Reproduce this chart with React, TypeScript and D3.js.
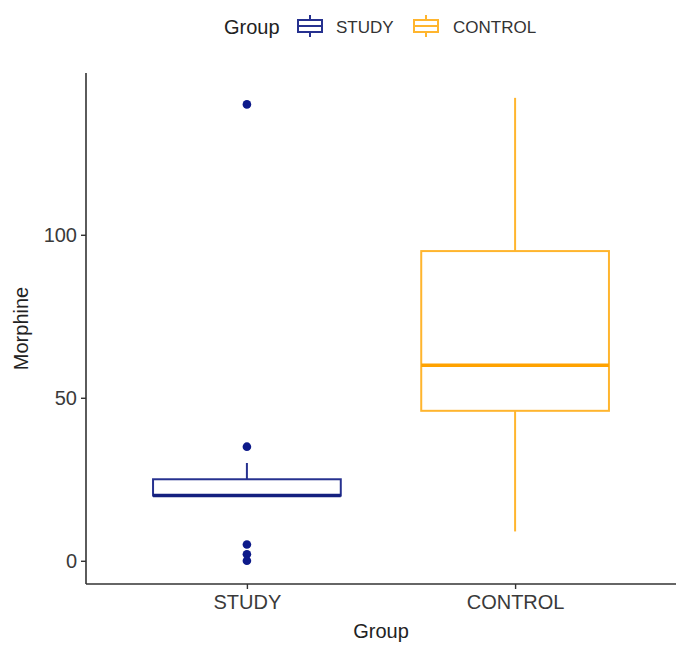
import React, { useEffect, useRef } from 'react';
import * as d3 from 'd3';

// boxplot summary per group
const groups = ['STUDY', 'CONTROL'];
const whiskerLow = [20, 9];
const q1 = [20, 46];
const median = [20, 60];
const q3 = [25, 95];
const whiskerHigh = [30, 142];
const studyOutliers = [140, 35, 5, 2, 0];
const controlOutliers: number[] = [];
const yTicks = [0, 50, 100];

const lineColors = ['#26318f', '#ffb52e'];
const medianColors = ['#14207f', '#ffa200'];
const pointColor = '#0d1a8a';

const App: React.FC = () => {
  const svgRef = useRef<SVGSVGElement | null>(null);

  useEffect(() => {
    if (!svgRef.current) return;
    const svg = d3.select(svgRef.current);
    svg.selectAll('*').remove();

    const width = 688;
    const height = 650;
    const margin = { top: 73, right: 12, bottom: 66, left: 86 };
    const font = "'Liberation Sans', Arial, sans-serif";

    // ggplot style expansion: 5% on continuous, 0.6 on discrete
    const dataMax = 142.5;
    const pad = dataMax * 0.05;
    const y = d3.scaleLinear()
      .domain([-pad, dataMax + pad])
      .range([height - margin.bottom, margin.top]);

    const x = d3.scaleLinear()
      .domain([0.4, groups.length + 0.6])
      .range([margin.left, width - margin.right]);
    const boxW = x(0.7) - x(0);

    // Axes
    const xAxis = svg.append('g')
      .attr('transform', `translate(0,${height - margin.bottom})`)
      .call(d3.axisBottom(x).tickValues([1, 2]).tickFormat((d, i) => groups[i]).tickSizeOuter(0).tickSize(5).tickPadding(6));
    const yAxis = svg.append('g')
      .attr('transform', `translate(${margin.left},0)`)
      .call(d3.axisLeft(y).tickValues(yTicks).tickSizeOuter(0).tickSize(5).tickPadding(4));

    [xAxis, yAxis].forEach(g => {
      g.select('.domain').attr('stroke', '#333').attr('stroke-width', 1.6);
      g.selectAll('.tick line').attr('stroke', '#333').attr('stroke-width', 1.4);
      g.selectAll('.tick text')
        .attr('fill', '#3a3a3a')
        .style('font-size', '20px')
        .style('font-family', font);
    });
    // extend domains to meet at corner
    xAxis.select('.domain').attr('d', `M${margin.left},0H${width - margin.right}`);
    yAxis.select('.domain').attr('d', `M0,${margin.top}V${height - margin.bottom}`);

    svg.append('text')
      .attr('x', (margin.left + width - margin.right) / 2)
      .attr('y', 638)
      .attr('text-anchor', 'middle')
      .attr('fill', '#222')
      .style('font-size', '20px')
      .style('font-family', font)
      .text('Group');

    svg.append('text')
      .attr('transform', 'rotate(-90)')
      .attr('x', -(y(-pad) + y(dataMax + pad)) / 2)
      .attr('y', 28)
      .attr('text-anchor', 'middle')
      .attr('fill', '#222')
      .style('font-size', '20px')
      .style('font-family', font)
      .text('Morphine');

    // Boxes
    const boxes = svg.append('g');
    groups.forEach((gname, i) => {
      const cx = x(i + 1);
      const g = boxes.append('g');
      const col = lineColors[i];
      g.append('line')
        .attr('x1', cx).attr('x2', cx)
        .attr('y1', y(q3[i])).attr('y2', y(whiskerHigh[i]))
        .attr('stroke', col).attr('stroke-width', 2);
      g.append('line')
        .attr('x1', cx).attr('x2', cx)
        .attr('y1', y(q1[i])).attr('y2', y(whiskerLow[i]))
        .attr('stroke', col).attr('stroke-width', 2);
      g.append('rect')
        .attr('x', cx - boxW / 2)
        .attr('y', y(q3[i]))
        .attr('width', boxW)
        .attr('height', y(q1[i]) - y(q3[i]))
        .attr('fill', 'white')
        .attr('stroke', col)
        .attr('stroke-width', 2);
      g.append('line')
        .attr('x1', cx - boxW / 2).attr('x2', cx + boxW / 2)
        .attr('y1', y(median[i])).attr('y2', y(median[i]))
        .attr('stroke', medianColors[i]).attr('stroke-width', 3.5);

      const outs = i === 0 ? studyOutliers : controlOutliers;
      g.selectAll('circle')
        .data(outs)
        .join('circle')
        .attr('cx', cx)
        .attr('cy', d => y(d))
        .attr('r', 4.3)
        .attr('fill', pointColor);
    });

    // Legend
    const leg = svg.append('g');
    leg.append('text')
      .attr('x', 224).attr('y', 34)
      .attr('fill', '#222')
      .style('font-size', '20px')
      .style('font-family', font)
      .text('Group');
    const keyX = [297, 413];
    const labelX = [336, 453];
    groups.forEach((gname, i) => {
      const k = leg.append('g').attr('transform', `translate(${keyX[i]},15)`);
      k.append('line').attr('x1', 13).attr('x2', 13).attr('y1', 0).attr('y2', 22)
        .attr('stroke', lineColors[i]).attr('stroke-width', 2);
      k.append('rect').attr('x', 1).attr('y', 5).attr('width', 24).attr('height', 12)
        .attr('fill', 'white').attr('stroke', lineColors[i]).attr('stroke-width', 2);
      k.append('line').attr('x1', 1).attr('x2', 25).attr('y1', 11).attr('y2', 11)
        .attr('stroke', lineColors[i]).attr('stroke-width', 2);
      leg.append('text')
        .attr('x', labelX[i]).attr('y', 33)
        .attr('fill', '#333')
        .style('font-size', '17px')
        .style('font-family', font)
        .text(gname);
    });
  }, []);

  return (
    <svg
      ref={svgRef}
      width={688}
      height={650}
      style={{ position: 'absolute', left: 0, top: 0, background: 'white' }}
    />
  );
};

export default App;
